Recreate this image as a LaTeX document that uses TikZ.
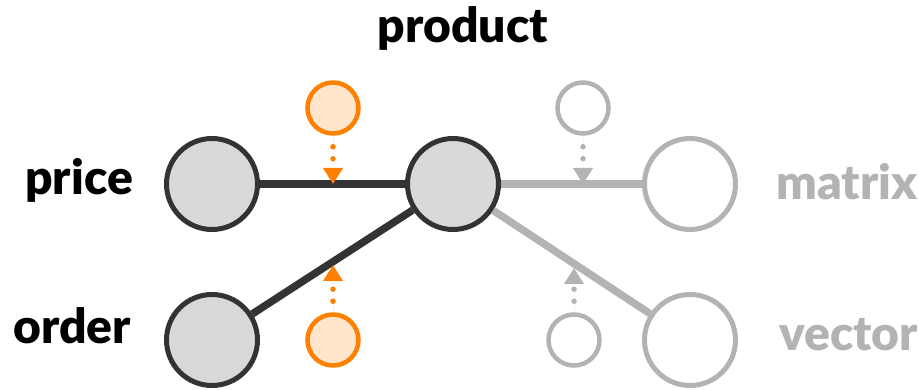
\documentclass[tikz,border=0pt]{standalone}
\usepackage{fontspec}
\setmainfont{Lato}
\newfontfamily\heavyfont{Lato Black}
\usetikzlibrary{arrows.meta}
\definecolor{ink}{HTML}{333333}
\definecolor{nodefill}{HTML}{D9D9D9}
\definecolor{faded}{HTML}{B3B3B3}
\definecolor{accent}{HTML}{FF8000}
\definecolor{accentfill}{HTML}{FFE5CC}
\tikzset{
  x=1pt, y=-1pt,
  bignode/.style={circle, minimum size=91pt, inner sep=0pt, line width=5pt},
  activenode/.style={bignode, draw=ink, fill=nodefill},
  idlenode/.style={bignode, draw=faded, fill=white},
  smallnode/.style={circle, minimum size=51pt, inner sep=0pt, line width=4.5pt},
  activesmall/.style={smallnode, draw=accent, fill=accentfill},
  idlesmall/.style={smallnode, draw=faded, fill=white},
  activeedge/.style={draw=ink, line width=7.5pt},
  idleedge/.style={draw=faded, line width=7.5pt},
  feed/.style={line width=5.5pt, line cap=round, dash pattern=on 0pt off 12pt, dash phase=1pt,
    -{Triangle[width=19pt,length=16pt]}},
  label/.style={font=\heavyfont\fontsize{48}{48}\selectfont, inner sep=0pt},
}
\begin{document}
\begin{tikzpicture}
\useasboundingbox (0,0) rectangle (919,390);

% main nodes
\node[activenode] (price) at (212,184) {};
\node[activenode] (product) at (453,184) {};
\node[idlenode] (matrix) at (690,184) {};
\node[activenode] (order) at (212,340) {};
\node[idlenode] (vector) at (690,340) {};

% labels
\node[label, anchor=base] (tproduct) at (463,43) {product};
\node[label, anchor=base east] (tprice) at (133,195) {price};
\node[label, anchor=base east] (torder) at (131,343) {order};
\node[label, anchor=base west, text=faded] (tmatrix) at (776,200) {matrix};
\node[label, anchor=base west, text=faded] (tvector) at (779,350) {vector};

% edges
\draw[activeedge] (price) -- (product);
\draw[activeedge] (order) -- (product);
\draw[idleedge] (product) -- (matrix);
\draw[idleedge] (product) -- (vector);

% small incoming nodes
\node[activesmall] (a1) at (333,108) {};
\node[idlesmall] (a2) at (583,108) {};
\node[activesmall] (a3) at (333,340) {};
\node[idlesmall] (a4) at (574,340) {};

\coordinate (t1) at (333,184);
\coordinate (t2) at (583,184);
\coordinate (t3) at (333,265);
\coordinate (t4) at (574,268);

\draw[feed, draw=accent, fill=accent] (a1) -- (t1);
\draw[feed, draw=faded, fill=faded] (a2) -- (t2);
\draw[feed, draw=accent, fill=accent] (a3) -- (t3);
\draw[feed, draw=faded, fill=faded] (a4) -- (t4);
\end{tikzpicture}
\end{document}
